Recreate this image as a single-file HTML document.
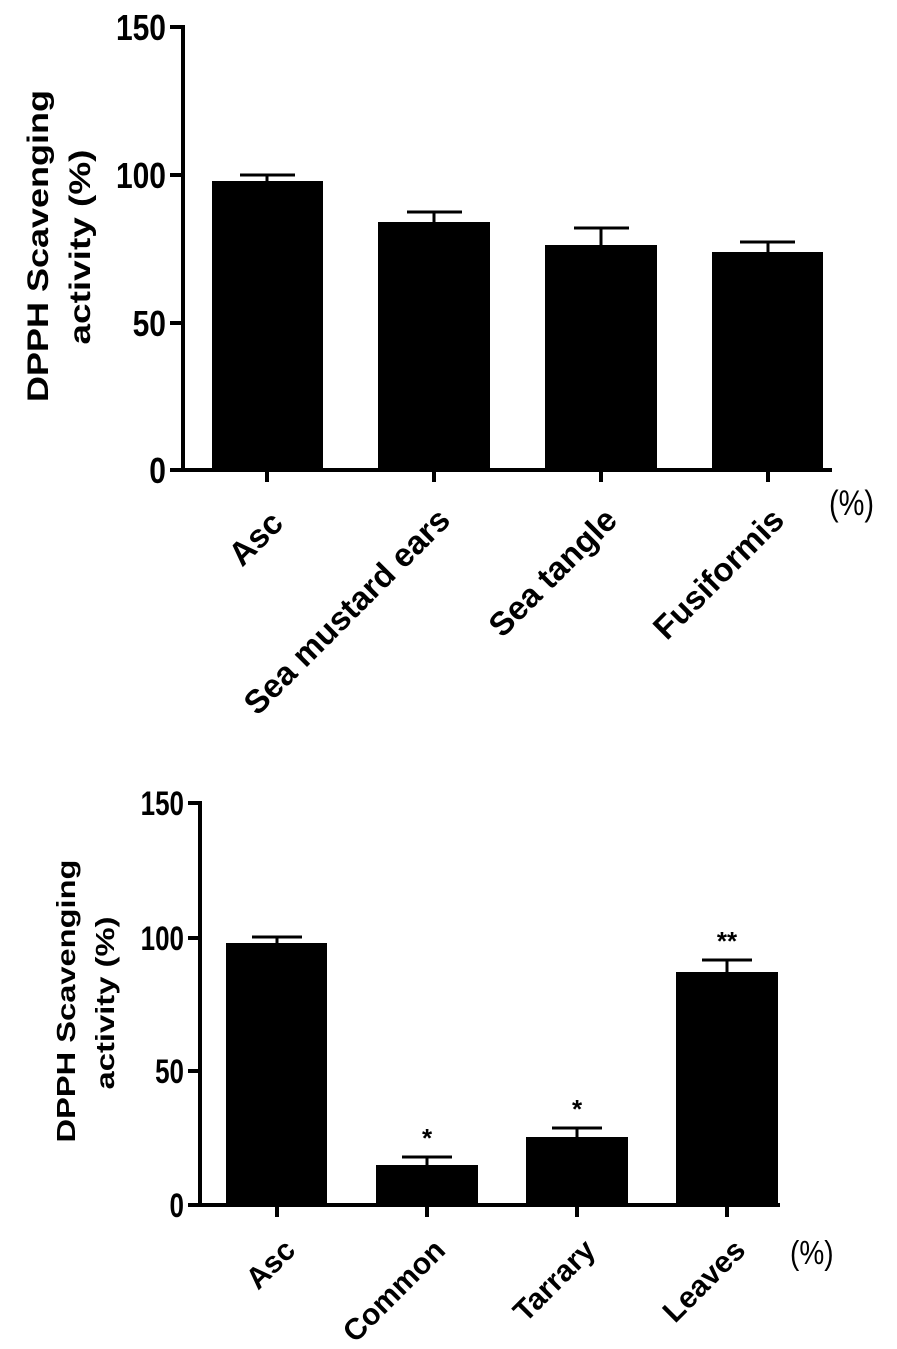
<!DOCTYPE html>
<html><head><style>body{margin:0;background:#fff}svg{display:block}</style></head>
<body>
<svg width="897" height="1349" xmlns="http://www.w3.org/2000/svg" font-family="Liberation Sans, Arial, sans-serif">
<!-- Top chart -->
<g stroke="#000" stroke-width="4" fill="none">
<line x1="183" y1="25" x2="183" y2="472"/>
<line x1="170" y1="470" x2="832" y2="470"/>
<line x1="170" y1="27" x2="183" y2="27"/>
<line x1="170" y1="175" x2="183" y2="175"/>
<line x1="170" y1="323" x2="183" y2="323"/>
<line x1="267" y1="470" x2="267" y2="482"/>
<line x1="434" y1="470" x2="434" y2="482"/>
<line x1="601" y1="470" x2="601" y2="482"/>
<line x1="768" y1="470" x2="768" y2="482"/>
</g>
<g fill="#000">
<rect x="212" y="181" width="111" height="289"/>
<rect x="378" y="222" width="112" height="248"/>
<rect x="545" y="245" width="112" height="225"/>
<rect x="712" y="252" width="111" height="218"/>
</g>
<g stroke="#000" stroke-width="3">
<line x1="240" y1="175" x2="295" y2="175"/><line x1="267" y1="175" x2="267" y2="181"/>
<line x1="407" y1="212" x2="462" y2="212"/><line x1="434" y1="212" x2="434" y2="222"/>
<line x1="574" y1="228" x2="629" y2="228"/><line x1="601" y1="228" x2="601" y2="245"/>
<line x1="740" y1="242" x2="795" y2="242"/><line x1="768" y1="242" x2="768" y2="252"/>
</g>
<g font-weight="bold" font-size="30" text-anchor="end" fill="#000">
<text transform="translate(166,40) scale(1,1.2)">150</text>
<text transform="translate(166,188) scale(1,1.2)">100</text>
<text transform="translate(166,336) scale(1,1.2)">50</text>
<text transform="translate(166,483) scale(1,1.2)">0</text>
</g>
<g font-weight="bold" font-size="30" text-anchor="middle">
<text transform="translate(48,246) rotate(-90)" textLength="312" lengthAdjust="spacingAndGlyphs">DPPH Scavenging</text>
<text transform="translate(90,247) rotate(-90)" textLength="195" lengthAdjust="spacingAndGlyphs">activity (%)</text>
</g>
<g font-weight="bold" font-size="33" text-anchor="end">
<text transform="translate(285,525) rotate(-45)">Asc</text>
<text transform="translate(452,522) rotate(-45)">Sea mustard ears</text>
<text transform="translate(619,522) rotate(-45)">Sea tangle</text>
<text transform="translate(786,522) rotate(-45)">Fusiformis</text>
</g>
<text transform="translate(829,515) scale(1,1.2)" font-size="29">(%)</text>

<!-- Bottom chart -->
<g stroke="#000" stroke-width="4" fill="none">
<line x1="200" y1="801" x2="200" y2="1207"/>
<line x1="188" y1="1205" x2="780" y2="1205"/>
<line x1="188" y1="803" x2="200" y2="803"/>
<line x1="188" y1="938" x2="200" y2="938"/>
<line x1="188" y1="1071" x2="200" y2="1071"/>
<line x1="277" y1="1205" x2="277" y2="1217"/>
<line x1="427" y1="1205" x2="427" y2="1217"/>
<line x1="577" y1="1205" x2="577" y2="1217"/>
<line x1="727" y1="1205" x2="727" y2="1217"/>
</g>
<g fill="#000">
<rect x="226" y="943" width="101" height="262"/>
<rect x="376" y="1165" width="102" height="40"/>
<rect x="526" y="1137" width="102" height="68"/>
<rect x="676" y="972" width="102" height="233"/>
</g>
<g stroke="#000" stroke-width="3">
<line x1="252" y1="937" x2="302" y2="937"/><line x1="277" y1="937" x2="277" y2="943"/>
<line x1="402" y1="1157" x2="452" y2="1157"/><line x1="427" y1="1157" x2="427" y2="1165"/>
<line x1="552" y1="1128" x2="602" y2="1128"/><line x1="577" y1="1128" x2="577" y2="1137"/>
<line x1="702" y1="960" x2="752" y2="960"/><line x1="727" y1="960" x2="727" y2="972"/>
</g>
<g font-weight="bold" font-size="26" text-anchor="middle">
<text x="427" y="1147">*</text>
<text x="577" y="1118">*</text>
<text x="727" y="950">**</text>
</g>
<g font-weight="bold" font-size="26" text-anchor="end">
<text transform="translate(184,815) scale(1,1.3)">150</text>
<text transform="translate(184,950) scale(1,1.3)">100</text>
<text transform="translate(184,1083) scale(1,1.3)">50</text>
<text transform="translate(184,1217) scale(1,1.3)">0</text>
</g>
<g font-weight="bold" font-size="26" text-anchor="middle">
<text transform="translate(75,1001) rotate(-90)" textLength="283" lengthAdjust="spacingAndGlyphs">DPPH Scavenging</text>
<text transform="translate(114,1003) rotate(-90)" textLength="173" lengthAdjust="spacingAndGlyphs">activity (%)</text>
</g>
<g font-weight="bold" font-size="30" text-anchor="end">
<text transform="translate(297,1252) rotate(-45)">Asc</text>
<text transform="translate(447,1252) rotate(-45)">Common</text>
<text transform="translate(597,1252) rotate(-45)">Tarrary</text>
<text transform="translate(747,1252) rotate(-45)">Leaves</text>
</g>
<text transform="translate(790,1264) scale(1,1.2)" font-size="28">(%)</text>
</svg>
</body></html>
